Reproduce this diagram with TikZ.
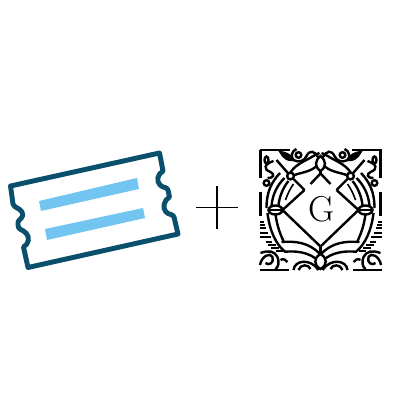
\documentclass[tikz,border=0pt]{standalone}
\usepackage{tikz}
\definecolor{ticketline}{RGB}{10,79,107}
\definecolor{ticketbar}{RGB}{114,197,240}
\tikzset{
  orna/.style={line width=1.8pt,line cap=butt},
  thin orna/.style={line width=1.2pt},
}
\begin{document}
\begin{tikzpicture}[x=0.75pt,y=0.75pt,yscale=-1,xscale=1]
\useasboundingbox (0,0) rectangle (400,400);

%Ticket outline
\draw [color=ticketline,line width=3.7pt,line join=round] (10.5,186) -- (159.5,153) -- (163,171) .. controls (157.5,174) and (156,181) .. (160,185) .. controls (163,188) and (167,187) .. (168,190) -- (169.5,197) .. controls (164,200) and (162,208) .. (166,212) .. controls (169,215) and (173,214) .. (174,217) -- (178,234) -- (28,267.5) -- (23.5,247) .. controls (29,244) and (30,237) .. (26,233) .. controls (22,229) and (18,230) .. (18,225) -- (18,222) .. controls (19,219) and (25,217) .. (22,212) .. controls (20,208) and (14,208) .. (13,204) -- cycle ;
%Ticket bars
\fill [ticketbar] (39,201) -- (137,178) -- (139,189) -- (41,211) -- cycle ;
\fill [ticketbar] (45,229) -- (143,208) -- (145,218) -- (47,240) -- cycle ;

%Plus
\draw [line width=0.9pt] (196,207.5) -- (238,207.5) ;
\draw [line width=0.9pt] (217,186) -- (217,229) ;

%Logo letter
\node (letter) at (321.5,209.5) {\fontsize{27}{27}\selectfont G};

\begin{scope}[shift={(320.5,210)}]
\foreach \sx in {1,-1} {
\begin{scope}[xscale=\sx]
%Frame
\draw [orna] (-61,-60) -- (-31,-60) ;
\draw [orna] (-60,-60) -- (-60,-32) ;
\draw [orna] (-60,-18) -- (-60,6) ;
\draw [orna] (-61,60) -- (-32,60) ;
%Stripes
\draw [thin orna] (-61,12) -- (-57,12) (-61,15) -- (-56,15) (-61,18) -- (-55,18) (-61,23) -- (-53,23) (-61,27) -- (-50,27) ;
\draw [thin orna] (-55,32) -- (-49,32) (-53,35) -- (-45,35) (-50,38) -- (-42,38) (-45,41) -- (-38,41) ;
%Diamond
\draw [orna] (-38,0) -- (0,36.5) ;
\draw [orna] (-38,0) -- (-16,-20) ;
\draw [orna] (0,-36.5) -- (-10,-26) ;
\draw [orna] (-30,-34) -- (-16,-20) ;
\draw [orna] (-30,-34) -- (-44,-50) ;
\draw [orna] (0,36.5) -- (0,44) ;
\draw [orna] (0,-36.5) -- (0,-41) ;
%Upper arcs
\draw [orna] (-54,-2) .. controls (-54,-18) and (-49,-28) .. (-40.5,-37) ;
\draw [orna] (-49,-4) .. controls (-48,-16) and (-43,-25) .. (-36,-32) ;
\draw [orna] (-42,-5) .. controls (-41,-14) and (-37,-23) .. (-32,-29) ;
\draw [thin orna] (-35,-10) .. controls (-33,-16) and (-30,-22) .. (-27,-26) ;
%Knots and leaves
\draw [orna,fill=white] (-30,-34) circle [radius=3.4] ;
\draw [orna,fill=white] (-45,0) ellipse [x radius=7,y radius=4.5] ;
\draw [orna] (-52,0) -- (-38,0) ;
%Lower arcs
\draw [orna] (-53,3) .. controls (-51,20) and (-45,34) .. (-35.5,41.7) .. controls (-26,41) and (-12,41) .. (-0.5,52) ;
\draw [orna] (-45,4) .. controls (-44,13) and (-41,23) .. (-37,31) ;
\draw [orna] (-39,32) .. controls (-26,31) and (-12,32) .. (-0.5,44) ;
%Wings beside the top leaf
\draw [orna] (-30.5,-37) .. controls (-26,-44) and (-20,-47) .. (-10.5,-52) .. controls (-7,-54) and (-4,-56) .. (-1,-57) ;
\draw [orna] (-26,-35) .. controls (-18,-38) and (-8,-38) .. (-1,-47) ;
%Top curl
\draw [orna] (-2,-52) .. controls (-6,-60) and (-11,-60) .. (-14,-54) .. controls (-16,-49) and (-22,-47) .. (-27,-50) .. controls (-30,-53) and (-29,-59) .. (-24,-61) ;
\draw [orna] (-22,-55) circle [radius=2.8] ;
\draw [orna,fill=black] (-40,-58) .. controls (-36,-57) and (-30,-56) .. (-27,-50) .. controls (-32,-49) and (-37,-52) .. (-40,-58) -- cycle ;
%Side curl
\draw [orna,fill=white] (-54,-50) ellipse [x radius=2,y radius=3.5] ;
\draw [orna] (-47,-49) .. controls (-56,-46) and (-58,-41) .. (-50,-38) .. controls (-46,-36) and (-46,-32) .. (-53,-32) ;
\draw [orna] (-54,-27) circle [radius=2.8] ;
%Bottom curls
\draw [orna] (-60.5,55) .. controls (-59,46) and (-50,42) .. (-48,47) .. controls (-46,53) and (-52,56) .. (-55,53) ;
\draw [orna] (-60,43) .. controls (-52,40) and (-46,41) .. (-43,47) .. controls (-41,52) and (-42,57) .. (-45,59) ;
\draw [orna] (-40,50) .. controls (-37,48) and (-35,50) .. (-33,52) ;
\draw [orna] (-27,60) .. controls (-26,50) and (-10,48) .. (-2,60) ;
\draw [orna] (-22,60) .. controls (-20,54) and (-12,54) .. (-10,59) ;
\end{scope}
}
%Top and bottom leaves
\draw [orna,fill=white] (0,-54) .. controls (6,-49) and (6,-43) .. (0,-39) .. controls (-6,-43) and (-6,-49) .. (0,-54) -- cycle ;
\draw [orna,fill=white] (0,44) .. controls (7,48) and (7,55) .. (0,59) .. controls (-7,55) and (-7,48) .. (0,44) -- cycle ;
\end{scope}
\end{tikzpicture}
\end{document}
